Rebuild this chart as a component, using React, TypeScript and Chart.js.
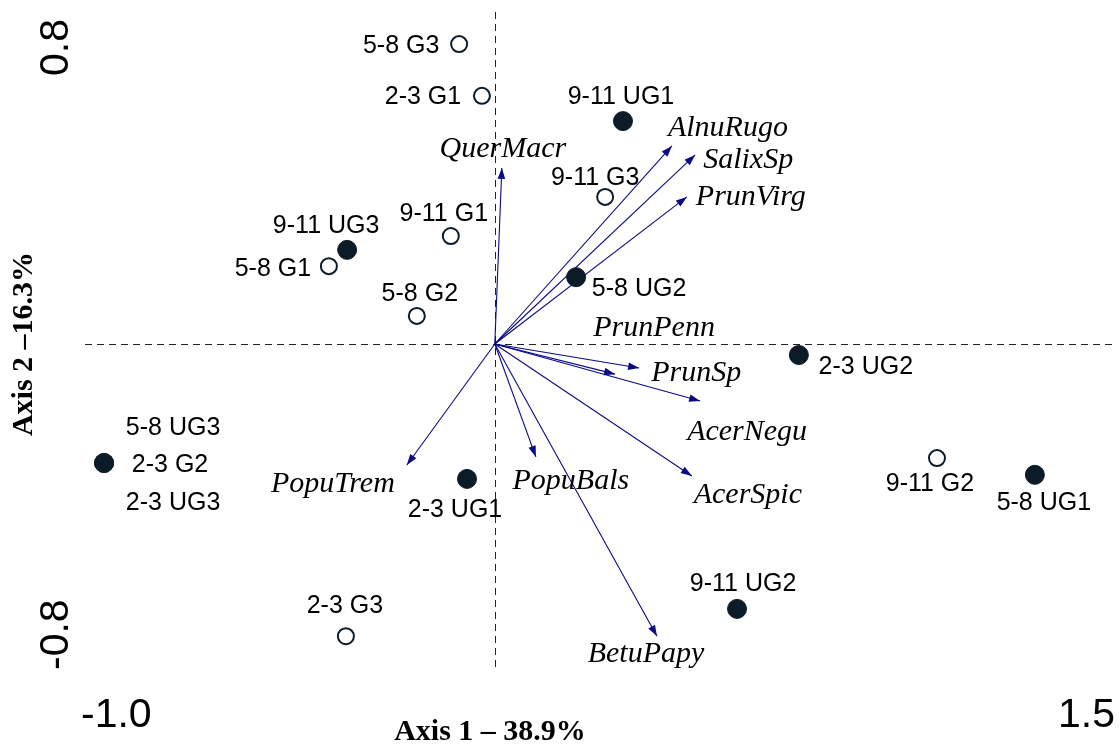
import { useEffect, useRef } from "react";
import { Chart, registerables } from "chart.js";

Chart.register(...registerables);

// ---------- data ----------
const X_TICKS = [-1.0, 1.5];
const Y_TICKS = [-0.8, 0.8];
const X_TITLE = "Axis 1 – 38.9%";
const Y_TITLE = "Axis 2 –16.3%";

// grazed plots (open circles)
const G_NAMES = ["5-8 G3", "2-3 G1", "9-11 G3", "9-11 G1", "5-8 G1", "5-8 G2", "9-11 G2", "2-3 G3", "2-3 G2"];
const G_X = [-0.086, -0.031, 0.266, -0.106, -0.4, -0.188, 1.066, -0.359, -0.942];
const G_Y = [0.736, 0.609, 0.361, 0.265, 0.191, 0.069, -0.28, -0.717, -0.292];

// ungrazed plots (filled circles)
const UG_NAMES = ["9-11 UG1", "9-11 UG3", "5-8 UG2", "2-3 UG2", "5-8 UG3", "2-3 UG3", "2-3 UG1", "5-8 UG1", "9-11 UG2"];
const UG_X = [0.309, -0.356, 0.196, 0.733, -0.942, -0.942, -0.067, 1.302, 0.584];
const UG_Y = [0.547, 0.231, 0.164, -0.027, -0.292, -0.292, -0.331, -0.321, -0.65];

// species vectors (from the origin)
const SPECIES = ["QuerMacr", "AlnuRugo", "SalixSp", "PrunVirg", "PrunPenn", "PrunSp", "AcerNegu", "AcerSpic", "PopuTrem", "PopuBals", "BetuPapy"];
const SPECIES_X = [0.017, 0.427, 0.483, 0.463, 0.29, 0.348, 0.495, 0.475, -0.212, 0.099, 0.391];
const SPECIES_Y = [0.432, 0.486, 0.464, 0.361, -0.074, -0.059, -0.14, -0.324, -0.297, -0.277, -0.717];

// ---------- layout (label offsets in px, relative to the mark) ----------
const G_LABEL_OFFSETS = [[-58, 1], [-59, 0], [-10, -20], [-7, -23], [-56, 2], [3, -23], [-7, 25], [-1, -31], [66, 1]];
const UG_LABEL_OFFSETS = [[-2, -25], [-21, -25], [63, 11], [67, 11], [69, -36], [69, 39], [-12, 30], [9, 27], [6, -26]];
const SPECIES_LABEL_OFFSETS = [[1, -20], [56, -19], [53, 4], [64, -1], [39, -47], [57, 4], [47, 30], [56, 18], [-74, 18], [35, 23], [-11, 17]];

const DOT = "#0b1c28";
const ARROW = "#0a0a85";
const SANS = '"Liberation Sans", Arial, sans-serif';
const SERIF = '"Liberation Serif", "Times New Roman", serif';

export default function App() {
  const ref = useRef<HTMLCanvasElement>(null);

  useEffect(() => {
    document.body.style.margin = "0";
    const canvas = ref.current;
    if (!canvas) return;

    const overlay = {
      id: "overlay",
      beforeDatasetsDraw(chart: any) {
        const { ctx, chartArea: a, scales } = chart;
        const x0 = Math.round(scales.x.getPixelForValue(0)) + 0.5;
        const y0 = Math.round(scales.y.getPixelForValue(0)) + 0.5;
        ctx.save();
        ctx.strokeStyle = "#222";
        ctx.lineWidth = 1;
        ctx.setLineDash([7, 5]);
        ctx.beginPath();
        ctx.moveTo(a.left + 5, y0);
        ctx.lineTo(a.right - 2, y0);
        ctx.moveTo(x0, a.top - 6);
        ctx.lineTo(x0, a.bottom + 2);
        ctx.stroke();
        ctx.restore();
      },
      afterDatasetsDraw(chart: any) {
        const { ctx, scales } = chart;
        const xs = scales.x;
        const ys = scales.y;
        const ox = xs.getPixelForValue(0);
        const oy = ys.getPixelForValue(0);
        ctx.save();

        // arrowheads
        ctx.fillStyle = ARROW;
        SPECIES.forEach((_, i) => {
          const tx = xs.getPixelForValue(SPECIES_X[i]);
          const ty = ys.getPixelForValue(SPECIES_Y[i]);
          const ang = Math.atan2(ty - oy, tx - ox);
          const L = 11;
          const W = 3.8;
          const bx = tx - L * Math.cos(ang);
          const by = ty - L * Math.sin(ang);
          ctx.beginPath();
          ctx.moveTo(tx, ty);
          ctx.lineTo(bx - W * Math.sin(ang), by + W * Math.cos(ang));
          ctx.lineTo(bx + W * Math.sin(ang), by - W * Math.cos(ang));
          ctx.closePath();
          ctx.fill();
        });

        // species labels
        ctx.fillStyle = "#000";
        ctx.textAlign = "center";
        ctx.textBaseline = "middle";
        ctx.font = `italic 30px ${SERIF}`;
        SPECIES.forEach((s, i) => {
          const tx = xs.getPixelForValue(SPECIES_X[i]);
          const ty = ys.getPixelForValue(SPECIES_Y[i]);
          const [dx, dy] = SPECIES_LABEL_OFFSETS[i];
          ctx.fillText(s, tx + dx, ty + dy + 1);
        });

        // sample labels
        ctx.font = `25px ${SANS}`;
        G_NAMES.forEach((s, i) => {
          const [dx, dy] = G_LABEL_OFFSETS[i];
          ctx.fillText(s, xs.getPixelForValue(G_X[i]) + dx, ys.getPixelForValue(G_Y[i]) + dy + 1);
        });
        UG_NAMES.forEach((s, i) => {
          const [dx, dy] = UG_LABEL_OFFSETS[i];
          ctx.fillText(s, xs.getPixelForValue(UG_X[i]) + dx, ys.getPixelForValue(UG_Y[i]) + dy + 1);
        });

        // corner tick labels
        ctx.font = `41px ${SANS}`;
        ctx.textBaseline = "alphabetic";
        X_TICKS.forEach((v, i) => {
          const px = xs.getPixelForValue(v);
          ctx.textAlign = i === 0 ? "left" : "right";
          ctx.fillText(v.toFixed(1), i === 0 ? px + 1 : px - 2, 727);
        });
        Y_TICKS.forEach((v, i) => {
          const py = ys.getPixelForValue(v);
          ctx.save();
          ctx.translate(68, i === 0 ? py : py + 1);
          ctx.rotate(-Math.PI / 2);
          ctx.textAlign = i === 0 ? "left" : "right";
          ctx.fillText(v.toFixed(1), 0, 0);
          ctx.restore();
        });

        // axis titles
        ctx.font = `bold 30px ${SERIF}`;
        ctx.textAlign = "center";
        ctx.fillText(X_TITLE, 490, 740);
        ctx.save();
        ctx.translate(32, 344);
        ctx.rotate(-Math.PI / 2);
        ctx.fillText(Y_TITLE, 0, 0);
        ctx.restore();

        ctx.restore();
      },
    };

    const datasets: any[] = [
      {
        label: "UG",
        data: UG_X.map((x, i) => ({ x, y: UG_Y[i] })),
        pointRadius: 9.5,
        pointBackgroundColor: DOT,
        pointBorderColor: DOT,
        pointBorderWidth: 1,
        showLine: false,
        order: 0,
      },
      {
        label: "G",
        data: G_X.map((x, i) => ({ x, y: G_Y[i] })),
        pointRadius: 8,
        pointBackgroundColor: "#ffffff",
        pointBorderColor: DOT,
        pointBorderWidth: 2,
        showLine: false,
        order: 1,
      },
      ...SPECIES.map((s, i) => ({
        label: s,
        data: [
          { x: 0, y: 0 },
          { x: SPECIES_X[i], y: SPECIES_Y[i] },
        ],
        showLine: true,
        pointRadius: 0,
        borderColor: ARROW,
        borderWidth: 1.1,
        order: 2,
      })),
    ];

    const chart = new Chart(canvas, {
      type: "scatter",
      data: { datasets },
      options: {
        animation: false,
        responsive: false,
        events: [],
        layout: { autoPadding: false, padding: { left: 80, right: 2, top: 18, bottom: 75 } },
        plugins: { legend: { display: false }, tooltip: { enabled: false } },
        scales: {
          x: { type: "linear", min: -1, max: 1.5, display: false },
          y: { type: "linear", min: -0.8, max: 0.8, display: false },
        },
      },
      plugins: [overlay],
    });

    return () => chart.destroy();
  }, []);

  return (
    <div style={{ width: 1119, height: 745, background: "#fff" }}>
      <canvas ref={ref} width={1119} height={745} style={{ display: "block" }} />
    </div>
  );
}
